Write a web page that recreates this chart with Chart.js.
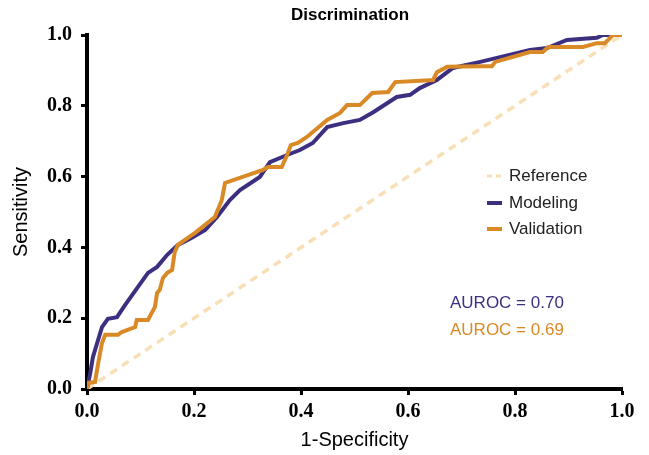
<!DOCTYPE html>
<html>
<head>
<meta charset="utf-8">
<script src="https://cdn.jsdelivr.net/npm/chart.js@4.4.1/dist/chart.umd.min.js"></script>
<style>
  html, body { margin: 0; padding: 0; background: #fff; }
  #wrap { width: 649px; height: 455px; }
</style>
</head>
<body>
<div id="wrap"><canvas id="roc"></canvas></div>
<script>
// ROC curves (1-specificity, sensitivity)
const modelingX = [0, 0.006, 0.011, 0.019, 0.028, 0.039, 0.056, 0.071, 0.095, 0.114, 0.131, 0.150, 0.170, 0.196, 0.221, 0.243, 0.267, 0.286, 0.323, 0.342, 0.374, 0.398, 0.422, 0.449, 0.479, 0.510, 0.535, 0.579, 0.604, 0.622, 0.654, 0.684, 0.735, 0.828, 0.860, 0.897, 0.953, 0.964, 1];
const modelingY = [0, 0.045, 0.090, 0.130, 0.175, 0.198, 0.203, 0.237, 0.288, 0.328, 0.345, 0.379, 0.407, 0.427, 0.449, 0.486, 0.534, 0.562, 0.599, 0.641, 0.661, 0.675, 0.695, 0.740, 0.751, 0.760, 0.782, 0.825, 0.831, 0.850, 0.873, 0.907, 0.924, 0.958, 0.963, 0.986, 0.992, 1, 1];

const validationX = [0, 0.002, 0.015, 0.021, 0.028, 0.034, 0.058, 0.065, 0.090, 0.093, 0.114, 0.127, 0.131, 0.136, 0.142, 0.150, 0.159, 0.164, 0.170, 0.183, 0.202, 0.239, 0.252, 0.258, 0.329, 0.338, 0.364, 0.374, 0.381, 0.394, 0.411, 0.449, 0.473, 0.486, 0.510, 0.533, 0.563, 0.576, 0.647, 0.654, 0.673, 0.735, 0.757, 0.763, 0.828, 0.852, 0.862, 0.927, 0.953, 0.968, 0.983, 1];
const validationY = [0, 0.017, 0.020, 0.073, 0.130, 0.153, 0.153, 0.161, 0.175, 0.195, 0.195, 0.232, 0.271, 0.280, 0.314, 0.328, 0.336, 0.387, 0.407, 0.421, 0.441, 0.486, 0.534, 0.582, 0.619, 0.627, 0.627, 0.661, 0.689, 0.695, 0.712, 0.760, 0.780, 0.802, 0.802, 0.836, 0.839, 0.867, 0.873, 0.895, 0.910, 0.912, 0.912, 0.924, 0.952, 0.952, 0.966, 0.966, 0.977, 0.977, 1, 1];

const referenceX = [0, 1];
const referenceY = [0, 1];

const aurocModeling = '0.70';
const aurocValidation = '0.69';
const tickValues = [0, 0.2, 0.4, 0.6, 0.8, 1.0];

const purple = '#3d2f80';
const orange = '#d98a26';
const peach = '#f8dfb6';

function toPoints(xs, ys) {
    return xs.map((x, i) => ({ x: x, y: ys[i] }));
}

// legend, AUROC labels and title drawn on the canvas
const extras = {
    id: 'extras',
    afterDraw(chart) {
        const ctx = chart.ctx;
        ctx.save();
        ctx.fillStyle = '#000';
        ctx.font = 'bold 17px "Liberation Sans", Arial, sans-serif';
        ctx.textAlign = 'center';
        ctx.textBaseline = 'middle';
        ctx.fillText('Discrimination', 350, 15);

        const items = [
            { label: 'Reference', color: peach, dash: [5, 4], y: 176 },
            { label: 'Modeling', color: purple, dash: [], y: 203 },
            { label: 'Validation', color: orange, dash: [], y: 229 }
        ];
        ctx.font = '17px "Liberation Sans", Arial, sans-serif';
        ctx.textAlign = 'left';
        items.forEach(it => {
            ctx.beginPath();
            ctx.setLineDash(it.dash);
            ctx.strokeStyle = it.color;
            ctx.lineWidth = it.dash.length ? 3 : 4;
            ctx.moveTo(487, it.y);
            ctx.lineTo(502, it.y);
            ctx.stroke();
            ctx.setLineDash([]);
            ctx.fillStyle = '#222';
            ctx.fillText(it.label, 509, it.y);
        });

        ctx.fillStyle = purple;
        ctx.fillText('AUROC = ' + aurocModeling, 450, 303);
        ctx.fillStyle = orange;
        ctx.fillText('AUROC = ' + aurocValidation, 450, 330);
        ctx.restore();
    }
};

const tickFont = { family: '"Liberation Serif", "Times New Roman", serif', size: 20, weight: 'bold' };
const titleFont = { family: '"Liberation Sans", Arial, sans-serif', size: 20 };

new Chart(document.getElementById('roc'), {
    type: 'scatter',
    data: {
        datasets: [
            { label: 'Reference', data: toPoints(referenceX, referenceY), showLine: true, borderColor: peach, borderWidth: 3.5, borderDash: [8, 6], pointRadius: 0, order: 3 },
            { label: 'Modeling', data: toPoints(modelingX, modelingY), showLine: true, borderColor: purple, borderWidth: 4, pointRadius: 0, order: 2 },
            { label: 'Validation', data: toPoints(validationX, validationY), showLine: true, borderColor: orange, borderWidth: 4, pointRadius: 0, order: 1 }
        ]
    },
    options: {
        responsive: true,
        maintainAspectRatio: false,
        animation: false,
        layout: { padding: { top: 35, right: 27, bottom: 0, left: 0 } },
        plugins: { legend: { display: false }, tooltip: { enabled: false } },
        scales: {
            x: {
                type: 'linear', min: 0, max: 1,
                afterBuildTicks: s => { s.ticks = tickValues.map(v => ({ value: v })); },
                afterFit: s => { s.height = 66; },
                border: { display: true, color: '#000', width: 4 },
                grid: { drawOnChartArea: false, drawTicks: true, tickLength: 6, tickWidth: 3, tickColor: '#000' },
                ticks: { color: '#000', font: tickFont, padding: 5, maxRotation: 0, callback: v => v.toFixed(1) },
                title: { display: true, text: '1-Specificity', color: '#000', font: titleFont, padding: { top: 0, bottom: 3 } }
            },
            y: {
                type: 'linear', min: 0, max: 1,
                afterBuildTicks: s => { s.ticks = tickValues.map(v => ({ value: v })); },
                afterFit: s => { s.width = 87; },
                border: { display: true, color: '#000', width: 4 },
                grid: { drawOnChartArea: false, drawTicks: true, tickLength: 6, tickWidth: 3, tickColor: '#000' },
                ticks: { color: '#000', font: tickFont, padding: 9, callback: v => v.toFixed(1) },
                title: { display: true, text: 'Sensitivity', color: '#000', font: titleFont, padding: { top: 9, bottom: 0 } }
            }
        }
    },
    plugins: [extras]
});
</script>
</body>
</html>
